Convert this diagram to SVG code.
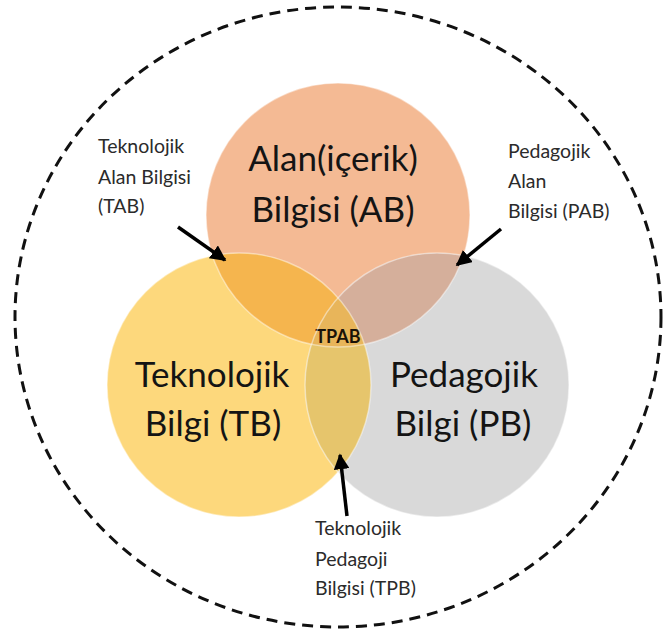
<svg xmlns="http://www.w3.org/2000/svg" width="664" height="632" viewBox="0 0 664 632">
  <style>
    .big { font-family: "Lato", "Open Sans", sans-serif; font-size: 35px; fill: #141414; text-anchor: middle; }
    .small { font-family: "Lato", "Open Sans", sans-serif; font-size: 19.5px; fill: #2b2b2b; }
    .center { font-family: "Lato", "Open Sans", sans-serif; font-size: 18px; font-weight: bold; fill: #1a1208; text-anchor: middle; }
    .edge { fill: none; stroke: #ffffff; stroke-opacity: 0.45; stroke-width: 1.5; }
    .arrow { stroke: #000; stroke-width: 3.5; fill: none; marker-end: url(#head); }
  </style>
  <defs>
    <marker id="head" viewBox="0 0 10 10" refX="9" refY="5" markerWidth="4.5" markerHeight="4.5" markerUnits="strokeWidth" orient="auto">
      <path d="M0,0 L10,5 L0,10 Z" fill="#000"/>
    </marker>
    <clipPath id="clipAB"><circle cx="338" cy="215" r="132"/></clipPath>
    <clipPath id="clipTB"><circle cx="239" cy="385" r="132"/></clipPath>
    <clipPath id="clipPB"><circle cx="437" cy="385" r="132"/></clipPath>
  </defs>
  <rect width="664" height="632" fill="#ffffff"/>

  <g id="context-ring">
    <ellipse cx="338" cy="317" rx="323" ry="310" fill="none" stroke="#111" stroke-width="3" stroke-dasharray="11 7"/>
  </g>

  <g id="node-ab">
    <circle cx="338" cy="215" r="132" fill="#F4BA94"/>
  </g>
  <g id="node-tb">
    <circle cx="239" cy="385" r="132" fill="#FDD87C"/>
  </g>
  <g id="node-pb">
    <circle cx="437" cy="385" r="132" fill="#D9D9D9"/>
  </g>

  <g id="node-tab">
    <circle cx="239" cy="385" r="132" fill="#F5B54E" clip-path="url(#clipAB)"/>
  </g>
  <g id="node-pab">
    <circle cx="437" cy="385" r="132" fill="#D5AF9B" clip-path="url(#clipAB)"/>
  </g>
  <g id="node-tpb">
    <circle cx="437" cy="385" r="132" fill="#E6C56C" clip-path="url(#clipTB)"/>
  </g>
  <g id="node-tpab">
    <g clip-path="url(#clipAB)">
      <circle cx="437" cy="385" r="132" fill="#E8B55A" clip-path="url(#clipTB)"/>
    </g>
    <text class="center" x="338" y="343">TPAB</text>
  </g>

  <g id="edges-outline">
    <circle class="edge" cx="338" cy="215" r="132"/>
    <circle class="edge" cx="239" cy="385" r="132"/>
    <circle class="edge" cx="437" cy="385" r="132"/>
  </g>

  <g id="labels-main">
    <text class="big" x="333" y="171">Alan(içerik)</text>
    <text class="big" x="333" y="222">Bilgisi (AB)</text>
    <text class="big" x="212" y="387">Teknolojik</text>
    <text class="big" x="213" y="436">Bilgi (TB)</text>
    <text class="big" x="464" y="387">Pedagojik</text>
    <text class="big" x="463" y="436">Bilgi (PB)</text>
  </g>

  <g id="label-tab">
    <text class="small" x="98" y="153">Teknolojik</text>
    <text class="small" x="98" y="184">Alan Bilgisi</text>
    <text class="small" x="98" y="213">(TAB)</text>
  </g>
  <g id="label-pab">
    <text class="small" x="508" y="158">Pedagojik</text>
    <text class="small" x="508" y="188">Alan</text>
    <text class="small" x="508" y="218">Bilgisi (PAB)</text>
  </g>
  <g id="label-tpb">
    <text class="small" x="315" y="535">Teknolojik</text>
    <text class="small" x="315" y="566">Pedagoji</text>
    <text class="small" x="315" y="595">Bilgisi (TPB)</text>
  </g>

  <g id="connectors">
    <line class="arrow" x1="178" y1="227" x2="225" y2="260"/>
    <line class="arrow" x1="501" y1="229" x2="457" y2="265"/>
    <line class="arrow" x1="347" y1="516" x2="340" y2="455"/>
  </g>
</svg>
